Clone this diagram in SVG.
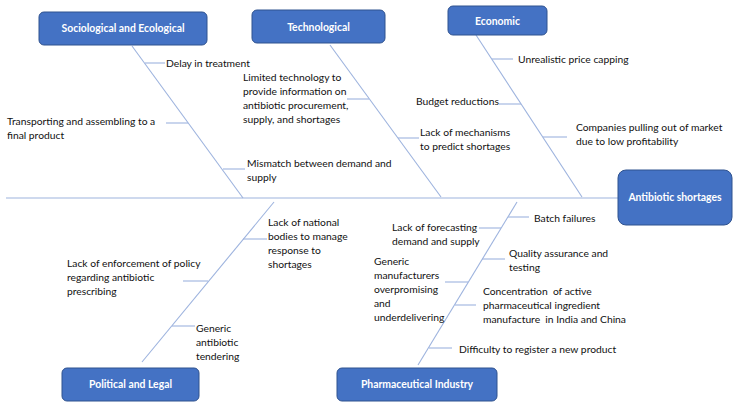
<svg xmlns="http://www.w3.org/2000/svg" width="738" height="408" viewBox="0 0 738 408">
<style>
.box{fill:#4472C4;stroke:#2F528F;stroke-width:1}
.bt{font-family:Lato,"Liberation Sans",sans-serif;font-size:10.4px;font-weight:bold;fill:#fff;text-anchor:middle}
.t{font-family:Lato,"Liberation Sans",sans-serif;font-size:10.3px;fill:#111}
.ln{stroke:#9DB3DE;stroke-width:1.1;fill:none}
</style>
<rect width="738" height="408" fill="#fff"/>
<g id="connectors">
<line class="ln" x1="6" y1="198" x2="618" y2="198"/>
<line class="ln" x1="132" y1="46" x2="243" y2="198"/>
<line class="ln" x1="330" y1="45" x2="441" y2="197"/>
<line class="ln" x1="476" y1="35" x2="582" y2="197"/>
<line class="ln" x1="274" y1="202" x2="142" y2="362"/>
<line class="ln" x1="517" y1="202" x2="418" y2="365"/>
<line class="ln" x1="145" y1="63" x2="165" y2="63"/>
<line class="ln" x1="166" y1="123" x2="188" y2="123"/>
<line class="ln" x1="223" y1="169" x2="245" y2="169"/>
<line class="ln" x1="347" y1="99" x2="369" y2="99"/>
<line class="ln" x1="398" y1="138" x2="419" y2="138"/>
<line class="ln" x1="492" y1="59" x2="513" y2="59"/>
<line class="ln" x1="499" y1="104" x2="521" y2="104"/>
<line class="ln" x1="543" y1="137" x2="567" y2="137"/>
<line class="ln" x1="243" y1="239" x2="267" y2="239"/>
<line class="ln" x1="183" y1="281" x2="208" y2="281"/>
<line class="ln" x1="172" y1="326" x2="195" y2="326"/>
<line class="ln" x1="508" y1="217" x2="529" y2="217"/>
<line class="ln" x1="479" y1="228" x2="501" y2="228"/>
<line class="ln" x1="482" y1="259" x2="505" y2="259"/>
<line class="ln" x1="445" y1="282" x2="468" y2="282"/>
<line class="ln" x1="455" y1="305" x2="476" y2="305"/>
<line class="ln" x1="429" y1="348" x2="452" y2="348"/>
</g>
<g id="soc"><rect class="box" x="39" y="12" width="168" height="33" rx="5"/><text class="bt" x="123" y="32">Sociological and Ecological</text></g>
<g id="tech"><rect class="box" x="252" y="10" width="133" height="33" rx="5"/><text class="bt" x="318.5" y="30.5">Technological</text></g>
<g id="econ"><rect class="box" x="448" y="6" width="99" height="29" rx="5"/><text class="bt" x="497.5" y="24.5">Economic</text></g>
<g id="effect"><rect class="box" x="618" y="170" width="114" height="55" rx="8"/><text class="bt" x="675" y="201">Antibiotic shortages</text></g>
<g id="pol"><rect class="box" x="62" y="368" width="137" height="33" rx="5"/><text class="bt" x="130.5" y="388">Political and Legal</text></g>
<g id="pharma"><rect class="box" x="337" y="368" width="160" height="33" rx="5"/><text class="bt" x="417" y="388">Pharmaceutical Industry</text></g>
<g id="causes">
<text class="t" x="166" y="67">Delay in treatment</text>
<text class="t" x="7" y="125">Transporting and assembling to a<tspan x="7" dy="14">final product</tspan></text>
<text class="t" x="247" y="167">Mismatch between demand and<tspan x="247" dy="14">supply</tspan></text>
<text class="t" x="243" y="81">Limited technology to<tspan x="243" dy="14">provide information on</tspan><tspan x="243" dy="14">antibiotic procurement,</tspan><tspan x="243" dy="14">supply, and shortages</tspan></text>
<text class="t" x="420" y="136">Lack of mechanisms<tspan x="420" dy="14">to predict shortages</tspan></text>
<text class="t" x="518" y="63">Unrealistic price capping</text>
<text class="t" x="416" y="105">Budget reductions</text>
<text class="t" x="576" y="131">Companies pulling out of market<tspan x="576" dy="14">due to low profitability</tspan></text>
<text class="t" x="268" y="226">Lack of national<tspan x="268" dy="14">bodies to manage</tspan><tspan x="268" dy="14">response to</tspan><tspan x="268" dy="14">shortages</tspan></text>
<text class="t" x="67" y="267">Lack of enforcement of policy<tspan x="67" dy="14">regarding antibiotic</tspan><tspan x="67" dy="14">prescribing</tspan></text>
<text class="t" x="196" y="332">Generic<tspan x="196" dy="14">antibiotic</tspan><tspan x="196" dy="14">tendering</tspan></text>
<text class="t" x="534" y="222">Batch failures</text>
<text class="t" x="392" y="231">Lack of forecasting<tspan x="392" dy="14">demand and supply</tspan></text>
<text class="t" x="509" y="257">Quality assurance and<tspan x="509" dy="14">testing</tspan></text>
<text class="t" x="374" y="265">Generic<tspan x="374" dy="14">manufacturers</tspan><tspan x="374" dy="14">overpromising</tspan><tspan x="374" dy="14">and</tspan><tspan x="374" dy="14">underdelivering</tspan></text>
<text class="t" x="483" y="295" xml:space="preserve">Concentration  of active<tspan x="483" dy="14">pharmaceutical ingredient</tspan><tspan x="483" dy="14">manufacture  in India and China</tspan></text>
<text class="t" x="459" y="353">Difficulty to register a new product</text>
</g>
</svg>
